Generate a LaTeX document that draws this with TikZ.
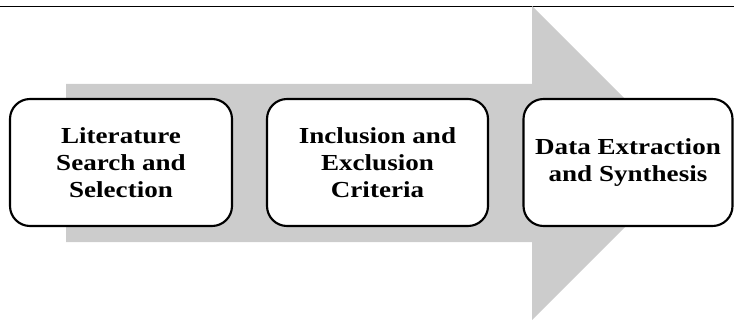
\documentclass[tikz,border=0pt]{standalone}
\usepackage{fontspec}
\setmainfont{Liberation Serif}[FakeStretch=1.18]
\usepackage{tikz}
\definecolor{arrowgrey}{RGB}{204,204,204}

\begin{document}
\begin{tikzpicture}[x=0.75pt, y=-0.75pt,
  box/.style={draw, line width=1.6pt, rounded corners=15pt, fill=white, align=center,
    minimum height=95.25pt, inner sep=0pt, font=\fontsize{17.2}{20.5}\selectfont\bfseries}]
\useasboundingbox (0,0) rectangle (734,320);

\coordinate (l1) at (0,6.5);
\coordinate (l2) at (734,6.5);
\draw[line width=1.4pt] (l1)--(l2);

\fill[arrowgrey] (66,84)--(532,84)--(532,6)--(689,163)--(532,320)--(532,242)--(66,242)--cycle;

\node (search) at (121,162.5) [box, minimum width=166.5pt] {Literature\\Search and\\Selection};
\node (criteria) at (377.5,162.5) [box, minimum width=165.75pt] {Inclusion and\\Exclusion\\Criteria};
\node (synthesis) at (628,162.5) [box, minimum width=156.75pt] {Data Extraction\\and Synthesis};
\end{tikzpicture}
\end{document}
